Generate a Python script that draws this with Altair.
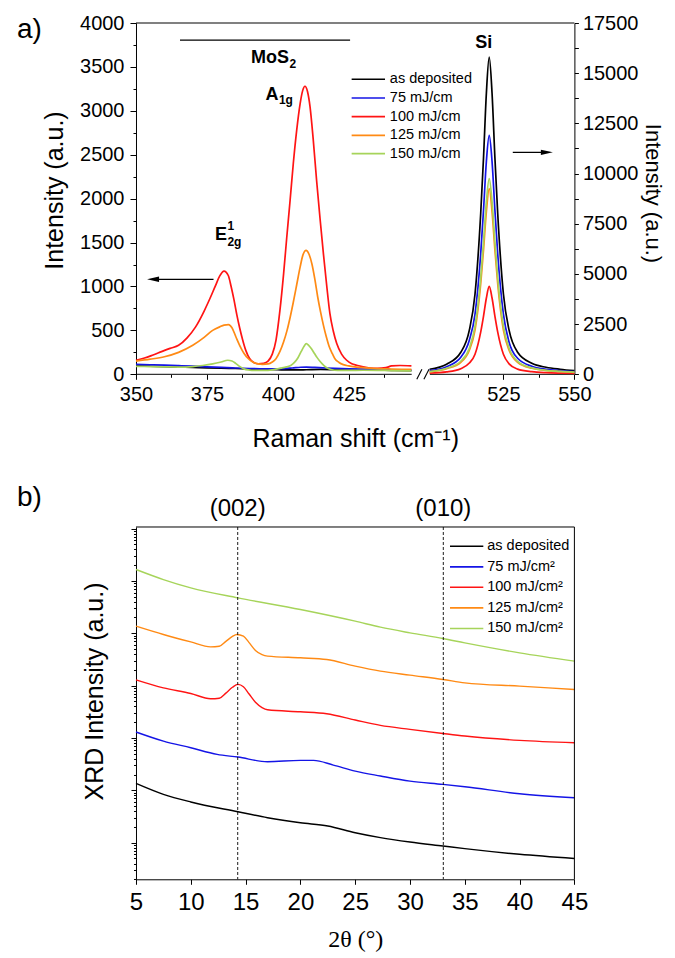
import altair as alt
import pandas as pd

KEYS = ["as", "75", "100", "125", "150"]
COLORS = ["#000000", "#1414e6", "#ff1414", "#ff8a14", "#a6d45a"]
LABELS_A = ["as deposited", "75 mJ/cm", "100 mJ/cm", "125 mJ/cm", "150 mJ/cm"]
LABELS_B = ["as deposited", "75 mJ/cm²", "100 mJ/cm²", "125 mJ/cm²", "150 mJ/cm²"]

# ---------------- Raman: MoS2 region (left axis) ----------------
mos_black_x = [350, 355, 360, 365, 370, 375, 380, 385, 390, 395, 400, 405, 410, 415, 420, 425, 430, 435, 440, 447]
mos_black_y = [95, 92, 88, 82, 78, 74, 70, 66, 60, 55, 52, 50, 52, 55, 53, 50, 48, 47, 45, 43]

mos_blue_x = [350, 355, 360, 365, 370, 375, 380, 385, 390, 395, 400, 405, 408, 410, 413, 417, 420, 425, 430, 435, 440, 447]
mos_blue_y = [112, 108, 104, 98, 92, 85, 78, 72, 66, 62, 63, 72, 80, 82, 78, 72, 68, 62, 58, 55, 52, 48]

mos_red_x = [350, 353, 356, 359, 362, 365, 368, 371, 374, 376, 378, 379.5, 381, 382.5, 383.5, 384.5, 385.5,
             386.5, 387.5, 388.7, 390, 391.5, 393, 395, 396.5, 398, 399.3, 400.7, 402, 403.1, 404.3, 405.4,
             406.6, 407.8, 408.7, 409.5, 410.4, 411.3, 412.4, 413.6, 414.8, 416, 417.2, 418.3, 419.5, 420.7,
             422.4, 424.2, 426, 427.7, 430, 432.4, 435, 438, 440, 443, 447]
mos_red_y = [160, 185, 220, 258, 295, 330, 415, 540, 720, 860, 1010, 1120, 1175, 1125, 1000, 850, 680,
             530, 400, 270, 180, 135, 120, 125, 150, 230, 387, 730, 1150, 1560, 1990, 2400,
             2780, 3080, 3230, 3280, 3220, 3045, 2680, 2210, 1780, 1374, 1000, 690, 490, 350,
             230, 160, 120, 103, 85, 72, 68, 75, 95, 100, 95]

mos_orange_x = [350, 355, 360, 365, 370, 374, 377, 379.5, 381, 382.6, 383.8, 385.2, 386.5, 388, 389.5, 391.1,
                393, 394.6, 396.5, 398, 399.3, 400.7, 402, 403.2, 404.3, 405.4, 406.6, 407.8, 408.8, 409.9,
                410.9, 412, 413, 414, 415, 416, 417, 418, 419, 420, 421.5, 423, 425, 427, 430, 435, 440, 447]
mos_orange_y = [150, 172, 200, 250, 330, 420, 500, 540, 560, 566, 530, 425, 330, 240, 180, 140,
                118, 114, 118, 140, 178, 260, 370, 500, 650, 820, 1020, 1220, 1360, 1412,
                1370, 1250, 1080, 880, 710, 560, 430, 320, 245, 180, 135, 110, 95, 85, 75, 65, 60, 55]

mos_green_x = [350, 355, 360, 365, 370, 373.5, 377, 380, 382.3, 383.8, 385.2, 386.5, 388, 389.5, 392, 395,
               398, 401, 403, 404.5, 405.8, 407, 408.2, 409.2, 410, 410.8, 411.8, 412.8, 413.8, 415,
               416.2, 417.5, 419, 421, 425, 430, 435, 440, 447]
mos_green_y = [90, 88, 85, 82, 88, 100, 118, 140, 160, 152, 122, 90, 62, 50, 44, 44,
               50, 70, 85, 100, 135, 185, 260, 320, 350, 330, 290, 240, 190, 140,
               100, 68, 52, 45, 44, 46, 45, 43, 40]

# ---------------- Raman: Si region (right axis) ----------------
si_x = [499, 505, 510, 513, 515, 517, 518, 519, 520, 521, 522, 523, 525, 527, 530, 535, 540, 545, 550]
si_black = [250, 500, 1100, 2200, 4000, 8000, 10800, 14000, 15800, 14000, 10800, 8000, 4000, 2200, 1100, 550, 350, 250, 180]
si_blue = [180, 380, 850, 1700, 3000, 6000, 8200, 10600, 11900, 10600, 8200, 6000, 3000, 1600, 800, 400, 250, 180, 130]
si_red = [60, 120, 280, 560, 1000, 2100, 2900, 3800, 4380, 3800, 2900, 2100, 1000, 520, 260, 130, 80, 60, 50]
si_orange = [120, 280, 600, 1200, 2200, 4500, 6200, 8100, 9250, 8100, 6200, 4500, 2200, 1200, 600, 300, 190, 140, 100]
si_green = [130, 300, 650, 1300, 2400, 4800, 6600, 8600, 9750, 8600, 6600, 4800, 2400, 1300, 650, 320, 200, 150, 110]

# ---------------- XRD ----------------
xrd_black_x = [5, 7.5, 10, 14.3, 17, 20, 22.5, 25, 27.3, 30, 33, 35, 40, 45]
xrd_black_y = [13.6, 8.4, 6.0, 3.9, 3.0, 2.4, 2.08, 1.55, 1.25, 1.03, 0.865, 0.77, 0.60, 0.50]
xrd_blue_x = [5, 7.5, 10, 12.4, 14.3, 17, 20, 21.2, 23, 25, 27.3, 30, 33, 35, 40, 45]
xrd_blue_y = [130, 87, 65, 48.6, 43.2, 35.2, 37.3, 37.3, 30.4, 23.3, 18.8, 15.0, 13.0, 11.7, 8.6, 7.2]
xrd_red_x = [5, 7.5, 10, 11.8, 12.6, 13.2, 13.8, 14.3, 14.8, 15.3, 15.9, 16.5, 17, 20, 22.4, 25, 27.3, 30, 33, 35, 40, 45]
xrd_red_y = [1291, 908, 708, 560, 575, 720, 930, 1054, 950, 700, 480, 380, 345, 316, 290, 220, 174, 146, 122, 109, 90, 81]
xrd_orange_x = [5, 7.5, 10, 11.8, 12.6, 13.2, 13.8, 14.2, 14.8, 15.3, 15.9, 16.5, 17, 20, 22.4, 25, 27.3, 30, 33, 35, 40, 45]
xrd_orange_y = [13680, 9480, 6855, 5500, 5650, 7000, 8700, 9480, 8800, 6700, 4700, 3900, 3656, 3396, 3162, 2355, 1892, 1585, 1312, 1130, 977, 845]
xrd_green_x = [5, 7.5, 10, 14.3, 20, 25, 27.3, 30, 33, 35, 40, 45]
xrd_green_y = [165000, 106000, 73500, 47400, 28400, 17000, 13060, 10190, 7940, 6560, 4230, 2940]

PEAK_LINES = [14.28, 33.04]
PEAK_LABELS = ["(002)", "(010)"]

# ---------------- layout constants ----------------
WA, HA = 438.4, 351.3
WB, HB = 438.4, 352.3
SHIFT = 45.6          # Si part displayed shifted left (axis break)
FONT = "Liberation Sans"

# ---------------- build tables ----------------
def table(pairs, xname, yname):
    rows = []
    for key, xs, ys in pairs:
        for a, b in zip(xs, ys):
            rows.append({xname: a, yname: b, "series": key})
    return pd.DataFrame(rows)

mos_df = table([("as", mos_black_x, mos_black_y), ("75", mos_blue_x, mos_blue_y),
                ("100", mos_red_x, mos_red_y), ("125", mos_orange_x, mos_orange_y),
                ("150", mos_green_x, mos_green_y)], "xp", "I")
si_df = table([("as", si_x, si_black), ("75", si_x, si_blue), ("100", si_x, si_red),
               ("125", si_x, si_orange), ("150", si_x, si_green)], "x", "I2")
si_df["xp"] = si_df["x"] - SHIFT
xrd_df = table([("as", xrd_black_x, xrd_black_y), ("75", xrd_blue_x, xrd_blue_y),
                ("100", xrd_red_x, xrd_red_y), ("125", xrd_orange_x, xrd_orange_y),
                ("150", xrd_green_x, xrd_green_y)], "tt", "R")

color = alt.Color("series:N", scale=alt.Scale(domain=KEYS, range=COLORS), legend=None)

# ---------------- panel a encodings ----------------
xa_major = [350, 375, 400, 425, 525 - SHIFT, 550 - SHIFT]
xa_minor = [362.5, 387.5, 412.5, 437.5, 512.5 - SHIFT, 537.5 - SHIFT]
xa_scale = alt.Scale(domain=[350, 550 - SHIFT], nice=False, zero=False)
maj_list = "[" + ",".join(repr(v) for v in xa_major) + "]"
ax_xa = alt.Axis(
    values=sorted(xa_major + xa_minor),
    labelExpr=f"indexof({maj_list}, datum.value) < 0 ? '' : format(datum.value > 450 ? datum.value + {SHIFT} : datum.value, 'd')",
    tickSize={"condition": {"test": f"indexof({maj_list}, datum.value) >= 0", "value": 5}, "value": 3},
    title="Raman shift (cm⁻¹)", titleFontSize=25, titleY=64, titleBaseline="middle",
    labelFontSize=20, labelPadding=5, domain=False, labelFlush=False, labelOverlap=False,
)
ax_yl = alt.Axis(
    values=list(range(0, 4001, 250)), format="d",
    labelExpr="datum.value % 500 === 0 ? datum.label : ''",
    tickSize={"condition": {"test": "datum.value % 500 === 0", "value": 6}, "value": 3},
    title="Intensity (a.u.)", titleAngle=270, titleX=-81, titleY=167, titleBaseline="middle",
    titleFontSize=25, labelFontSize=20, labelPadding=6, labelFlush=False, labelOverlap=False,
)
ax_yr = alt.Axis(
    orient="right", values=list(range(0, 17501, 1250)), format="d",
    labelExpr="datum.value % 2500 === 0 ? datum.label : ''",
    tickSize=4, title="Intensity (a.u.)", titleAngle=90, titleX=78, titleY=170,
    titleBaseline="middle", titleFontSize=22, labelFontSize=20, labelPadding=4,
    labelFlush=False, labelOverlap=False,
)
yl_scale = alt.Scale(domain=[0, 4000], nice=False, zero=True)
yr_scale = alt.Scale(domain=[0, 17500], nice=False, zero=True)

def XA(f):
    return alt.X(f"{f}:Q", scale=xa_scale, axis=ax_xa)

def YL(f="I"):
    return alt.Y(f"{f}:Q", scale=yl_scale, axis=ax_yl)

def YR(f="I2"):
    return alt.Y(f"{f}:Q", scale=yr_scale, axis=ax_yr)

mos_lines = alt.Chart(mos_df).mark_line(strokeWidth=1.7, interpolate="monotone").encode(
    x=XA("xp"), y=YL(), color=color)

def ltext(xp, i, s, size, align="center", weight="bold"):
    d = pd.DataFrame({"xp": [xp], "I": [i], "t": [s]})
    return alt.Chart(d).mark_text(fontSize=size, fontWeight=weight, align=align,
                                  baseline="middle", color="black").encode(
        x=XA("xp"), y=YL(), text="t:N")

annot_a = [
    ltext(403.87, 3598, "MoS", 18, "right"),
    ltext(404.05, 3530, "2", 12, "left"),
    ltext(400.18, 3177, "A", 18, "right"),
    ltext(400.35, 3120, "1g", 12, "left"),
    ltext(382.04, 1583, "E", 18, "right"),
    ltext(382.2, 1685, "1", 12, "left"),
    ltext(382.2, 1503, "2g", 12, "left"),
]

mos_bar = alt.Chart(pd.DataFrame({"xp": [365.5], "xp2": [425.4], "I": [3804]})).mark_rule(
    color="black", strokeWidth=1.3).encode(x=XA("xp"), x2="xp2:Q", y=YL())

arrow_l_line = alt.Chart(pd.DataFrame({"xp": [356.0], "xp2": [377.3], "I": [1082]})).mark_rule(
    color="black", strokeWidth=1.2).encode(x=XA("xp"), x2="xp2:Q", y=YL())
arrow_l_head = alt.Chart(pd.DataFrame({"xp": [356.0], "I": [1082]})).mark_point(
    shape="M -1 0 L 1 -0.45 L 1 0.45 Z", size=144, filled=True, opacity=1,
    color="black", strokeWidth=0).encode(x=XA("xp"), y=YL())

# legend (panel a), placed in data coordinates
leg_a = pd.DataFrame({"series": KEYS, "label": LABELS_A,
                      "xp": [425.95] * 5, "xp2": [437.7] * 5, "xt": [439.4] * 5,
                      "I": [3359, 3146, 2934, 2721, 2513]})
leg_a_lines = alt.Chart(leg_a).mark_rule(strokeWidth=1.6).encode(
    x=XA("xp"), x2="xp2:Q", y=YL(), color=color)
leg_a_text = alt.Chart(leg_a).mark_text(align="left", baseline="middle", fontSize=14.5,
                                        color="black").encode(x=XA("xt"), y=YL(), text="label:N")

# frame / broken axis
axis_segs = pd.DataFrame({"xp": [350, 453.5], "xp2": [447.1, 550 - SHIFT]})
bottom_axis = alt.Chart(axis_segs).mark_rule(color="black", strokeWidth=1).encode(
    x=XA("xp"), x2="xp2:Q", y=alt.value(HA))
top_border = alt.Chart(pd.DataFrame({"xp": [350], "xp2": [550 - SHIFT]})).mark_rule(
    color="black", strokeWidth=1).encode(x=XA("xp"), x2="xp2:Q", y=alt.value(0))
brk = pd.DataFrame({"xp": [448.9, 451.4], "xp2": [450.7, 453.2]})
break_marks = alt.Chart(brk).mark_rule(color="black", strokeWidth=1.1).encode(
    x=XA("xp"), x2="xp2:Q", y=alt.value(HA + 5), y2=alt.value(HA - 5))

label_a = alt.Chart(pd.DataFrame({"t": ["a)"]})).mark_text(
    fontSize=28, align="left", baseline="middle", color="black").encode(
    x=alt.value(-119), y=alt.value(7), text="t:N")

left_group = alt.layer(mos_lines, mos_bar, *annot_a, arrow_l_line, arrow_l_head,
                       leg_a_lines, leg_a_text, bottom_axis, top_border, break_marks, label_a)

si_lines = alt.Chart(si_df).mark_line(strokeWidth=1.7, interpolate="monotone").encode(
    x=XA("xp"), y=YR(), color=color)
si_text = alt.Chart(pd.DataFrame({"xp": [472.5], "I2": [16480], "t": ["Si"]})).mark_text(
    fontSize=18, fontWeight="bold", baseline="middle", color="black").encode(
    x=XA("xp"), y=YR(), text="t:N")
arrow_r_line = alt.Chart(pd.DataFrame({"xp": [482.7], "xp2": [494.7], "I2": [11056]})).mark_rule(
    color="black", strokeWidth=1.2).encode(x=XA("xp"), x2="xp2:Q", y=YR())
arrow_r_head = alt.Chart(pd.DataFrame({"xp": [494.7], "I2": [11056]})).mark_point(
    shape="M 1 0 L -1 -0.45 L -1 0.45 Z", size=144, filled=True, opacity=1,
    color="black", strokeWidth=0).encode(x=XA("xp"), y=YR())

right_group = alt.layer(si_lines, si_text, arrow_r_line, arrow_r_head)

panel_a = alt.layer(left_group, right_group).resolve_scale(y="independent").properties(
    width=WA, height=HA)

# ---------------- panel b ----------------
xb_scale = alt.Scale(domain=[5, 45], nice=False, zero=False)
ax_xb = alt.Axis(values=list(range(5, 46, 5)), tickSize=5, labelFontSize=24, labelPadding=6,
                 title="2θ (°)", titleFont="Liberation Serif", titleFontSize=24,
                 titleY=60, titleBaseline="middle", labelFlush=False, labelOverlap=False)
majors_b = [1, 10, 100, 1000, 10000, 100000, 1000000]
yb_vals = []
for e in range(-1, 7):
    for k in range(1, 10):
        v = k * 10.0 ** e
        if 0.2 <= v <= 1.07e6:
            yb_vals.append(round(v, 6))
majb_list = "[" + ",".join(str(v) for v in majors_b) + "]"
yb_scale = alt.Scale(type="log", domain=[0.2, 1.07e6], nice=False)
ax_yb = alt.Axis(values=yb_vals, labels=False,
                 tickSize={"condition": {"test": f"indexof({majb_list}, datum.value) >= 0", "value": 5}, "value": 2.5},
                 title="XRD Intensity (a.u.)", titleAngle=270, titleX=-41, titleY=164,
                 titleBaseline="middle", titleFontSize=25)

def XB(f="tt"):
    return alt.X(f"{f}:Q", scale=xb_scale, axis=ax_xb)

def YB(f="R"):
    return alt.Y(f"{f}:Q", scale=yb_scale, axis=ax_yb)

xrd_lines = alt.Chart(xrd_df).mark_line(strokeWidth=1.4, interpolate="monotone").encode(
    x=XB(), y=YB(), color=color)
peak_rules = alt.Chart(pd.DataFrame({"tt": PEAK_LINES})).mark_rule(
    color="black", strokeWidth=0.9, strokeDash=[3, 2]).encode(x=XB())
peak_text = alt.Chart(pd.DataFrame({"tt": PEAK_LINES, "t": PEAK_LABELS})).mark_text(
    fontSize=24, baseline="middle", color="black").encode(x=XB(), y=alt.value(-18), text="t:N")

leg_b = pd.DataFrame({"series": KEYS, "label": LABELS_B,
                      "tt": [33.65] * 5, "tt2": [36.69] * 5, "xt": [37.05] * 5,
                      "R": [459000, 185000, 75800, 30500, 12350]})
leg_b_lines = alt.Chart(leg_b).mark_rule(strokeWidth=1.6).encode(
    x=XB(), x2="tt2:Q", y=YB(), color=color)
leg_b_text = alt.Chart(leg_b).mark_text(align="left", baseline="middle", fontSize=14.5,
                                        color="black").encode(x=XB("xt"), y=YB(), text="label:N")

one = pd.DataFrame({"t": ["b)"]})
top_b = alt.Chart(one).mark_rule(color="black", strokeWidth=1).encode(
    x=alt.value(0), x2=alt.value(WB), y=alt.value(0))
right_b = alt.Chart(one).mark_rule(color="black", strokeWidth=1).encode(
    x=alt.value(WB), y=alt.value(0), y2=alt.value(HB))
label_b = alt.Chart(one).mark_text(fontSize=28, align="left", baseline="middle",
                                   color="black").encode(x=alt.value(-119), y=alt.value(-29), text="t:N")

panel_b = alt.layer(xrd_lines, peak_rules, peak_text, leg_b_lines, leg_b_text,
                    top_b, right_b, label_b).properties(width=WB, height=HB)

chart = alt.vconcat(panel_a, panel_b, spacing=152, bounds="flush").properties(
    padding={"left": 9, "top": 5, "right": 2, "bottom": 0}
).configure_view(stroke=None).configure_axis(
    grid=False, domainColor="black", tickColor="black", labelColor="black",
    titleColor="black", labelFont=FONT, titleFont=FONT, titleFontWeight="normal",
    domainWidth=1, tickWidth=1,
).configure_text(font=FONT)

chart.save("out.html", embed_options={"renderer": "svg", "actions": False})
